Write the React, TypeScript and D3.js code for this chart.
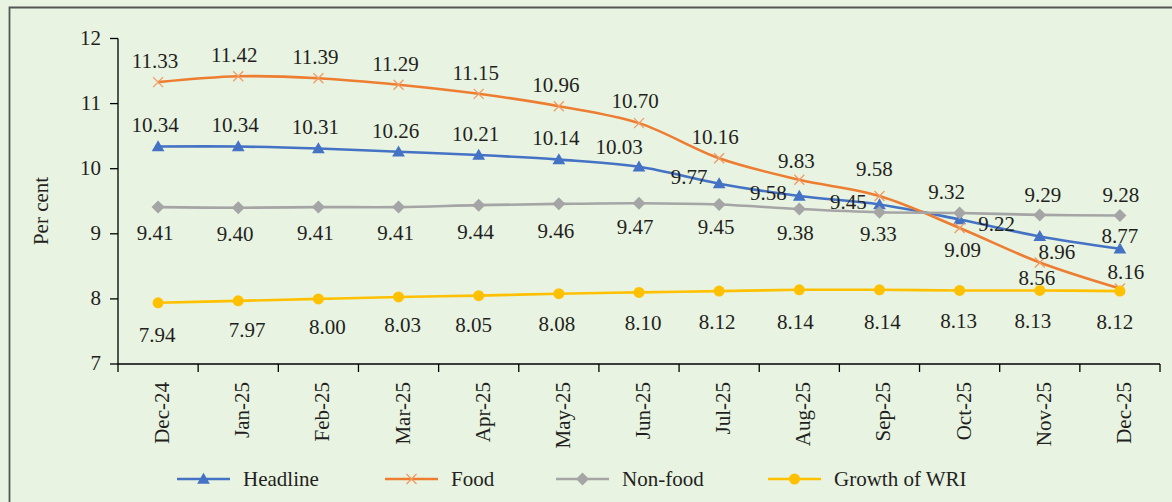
import React from "react";
import * as d3 from "d3";

const months = ["Dec-24","Jan-25","Feb-25","Mar-25","Apr-25","May-25","Jun-25","Jul-25","Aug-25","Sep-25","Oct-25","Nov-25","Dec-25"];
const headline = [10.34,10.34,10.31,10.26,10.21,10.14,10.03,9.77,9.58,9.45,9.22,8.96,8.77];
const food = [11.33,11.42,11.39,11.29,11.15,10.96,10.70,10.16,9.83,9.58,9.09,8.56,8.16];
const nonFood = [9.41,9.40,9.41,9.41,9.44,9.46,9.47,9.45,9.38,9.33,9.32,9.29,9.28];
const wri = [7.94,7.97,8.00,8.03,8.05,8.08,8.10,8.12,8.14,8.14,8.13,8.13,8.12];
const yTicks = [7,8,9,10,11,12];
const seriesNames = ["Headline","Food","Non-food","Growth of WRI"];

// label placement (offset of label centre from point)
const headlineLbl: [number, number][] = [[-3,-21],[-3,-21],[-3,-21],[-3,-21],[-3,-21],[-3,-22],[-20,-20],[-30,-7],[-31,-3],[-31,-2],[37,5],[17,16],[0,-13]];
const foodLbl: [number, number][] = [[-3,-21],[-4,-21],[-3,-21],[-3,-21],[-3,-21],[-3,-21],[-4,-22],[-4,-21],[-3,-19],[-5,-27],[3,22],[-3,16],[6,-16]];
const nonFoodLbl: [number, number][] = [[-3,26],[-3,26],[-3,26],[-3,26],[-3,27],[-3,27],[-4,24],[-3,23],[-4,24],[-1,22],[-13,-21],[3,-20],[1,-21]];
const wriLbl: [number, number][] = [[-1,32],[9,29],[9,28],[4,28],[-5,29],[-2,30],[4,31],[-2,31],[-4,32],[3,32],[-1,31],[-7,31],[-5,31]];

const W = 1172, H = 502;
const BG = "#e8f3e2";
const TXT = "#231f20";
const FONT = "'Liberation Serif', 'Times New Roman', serif";
const FS = 21;
const colors = ["#4472c4", "#ed7d31", "#a5a5a5", "#ffc000"];

const x = d3.scaleBand<string>().domain(months).range([118, 1160]).padding(0);
const y = d3.scaleLinear().domain([7, 12]).range([364, 38.5]);
const cx = (m: string) => (x(m) as number) + x.bandwidth() / 2;

function Marker({ kind, px, py }: { kind: number; px: number; py: number }) {
  if (kind === 0) {
    const p = d3.symbol().type(d3.symbolTriangle).size(70)();
    return <path d={p as string} transform={`translate(${px},${py + 1})`} fill={colors[0]} />;
  }
  if (kind === 1) {
    const s = 5;
    return (
      <path d={`M${px - s},${py - s}L${px + s},${py + s}M${px - s},${py + s}L${px + s},${py - s}`} stroke="#f19a62" strokeWidth={1.3} fill="none" />
    );
  }
  if (kind === 2) {
    const s = 6.5;
    return <path d={`M${px},${py - s}L${px + s},${py}L${px},${py + s}L${px - s},${py}Z`} fill={colors[2]} />;
  }
  return <circle cx={px} cy={py} r={5.5} fill={colors[3]} />;
}

export default function App() {
  const all = [headline, food, nonFood, wri];
  const lbls = [headlineLbl, foodLbl, nonFoodLbl, wriLbl];
  const line = d3
    .line<number>()
    .x((_, i) => cx(months[i]))
    .y((v) => y(v))
    .curve(d3.curveCatmullRom.alpha(0.5));

  const legendX = [177, 385, 556, 768];
  const legendY = 479;

  return (
    <svg width={W} height={H} style={{ position: "absolute", left: 0, top: 0, display: "block" }} fontFamily={FONT}>
      <rect x={0} y={0} width={W} height={H} fill={BG} />
      <path d={`M9.5,${H + 5}V7.5H${W + 5}`} fill="none" stroke="#555" strokeWidth={1.8} />

      {/* y axis */}
      <line x1={118} x2={118} y1={y(12)} y2={y(7)} stroke="#000" strokeWidth={1.3} />
      {yTicks.map((t) => (
        <g key={t}>
          <line x1={110} x2={118} y1={y(t)} y2={y(t)} stroke="#000" strokeWidth={1.3} />
          <text x={101} y={y(t)} dy="0.3em" textAnchor="end" fontSize={FS} fill={TXT}>{t}</text>
        </g>
      ))}
      <text transform="translate(48,211) rotate(-90)" textAnchor="middle" fontSize={FS} fill={TXT}>Per cent</text>

      {/* x axis */}
      <line x1={118} x2={1160} y1={y(7)} y2={y(7)} stroke="#000" strokeWidth={1.3} />
      {months.map((m) => (
        <line key={"t" + m} x1={x(m) as number} x2={x(m) as number} y1={y(7)} y2={y(7) + 8} stroke="#000" strokeWidth={1.3} />
      ))}
      <line x1={1160} x2={1160} y1={y(7)} y2={y(7) + 8} stroke="#000" strokeWidth={1.3} />
      {months.map((m) => (
        <text key={"l" + m} transform={`translate(${cx(m) + 11},382) rotate(-90)`} textAnchor="end" fontSize={FS} fill={TXT}>{m}</text>
      ))}

      {/* series */}
      {all.map((s, k) => (
        <g key={"s" + k}>
          <path d={line(s) as string} fill="none" stroke={colors[k]} strokeWidth={2.6} />
          {s.map((v, i) => (
            <Marker key={i} kind={k} px={cx(months[i])} py={y(v)} />
          ))}
        </g>
      ))}
      {all.map((s, k) => (
        <g key={"lab" + k}>
          {s.map((v, i) => (
            <text key={i} x={cx(months[i]) + lbls[k][i][0]} y={y(v) + lbls[k][i][1]} dy="0.33em" textAnchor="middle" fontSize={FS} fill={TXT}>
              {v.toFixed(2)}
            </text>
          ))}
        </g>
      ))}

      {/* legend */}
      {seriesNames.map((n, k) => (
        <g key={"lg" + k}>
          <line x1={legendX[k]} x2={legendX[k] + 53} y1={legendY} y2={legendY} stroke={colors[k]} strokeWidth={2.6} />
          <Marker kind={k} px={legendX[k] + 26.5} py={legendY} />
          <text x={legendX[k] + 66} y={legendY} dy="0.33em" fontSize={FS} fill={TXT}>{n}</text>
        </g>
      ))}
    </svg>
  );
}
